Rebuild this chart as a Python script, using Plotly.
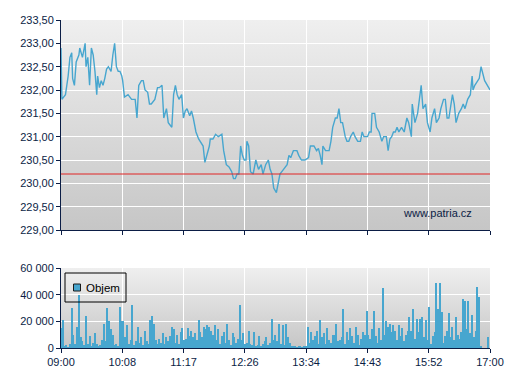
import base64
import plotly.graph_objects as go
from plotly.subplots import make_subplots

# ---- data ----
price_minutes = [0, 1, 5, 8, 10, 12, 13, 15, 17, 20, 21, 24, 27, 28, 30, 32, 34, 36, 38, 40,
                 41, 43, 45, 47, 49, 51, 53, 55, 56, 58, 60, 62, 64, 66, 68, 69, 71, 75, 79, 83,
                 85, 87, 90, 92, 94, 97, 99, 101, 105, 108, 110, 113, 115, 118, 120, 122, 124, 126, 128, 130,
                 132, 135, 137, 139, 141, 144, 146, 148, 151, 154, 156, 159, 161, 163, 166, 167, 170, 173, 176, 180,
                 182, 185, 188, 191, 193, 195, 197, 199, 201, 203, 205, 207, 208, 210, 212, 215, 218, 221, 224, 226,
                 229, 232, 234, 236, 238, 241, 243, 245, 249, 253, 255, 257, 260, 264, 266, 269, 273, 277, 279, 283,
                 286, 288, 290, 292, 293, 296, 300, 302, 304, 307, 309, 311, 313, 315, 318, 320, 322, 324, 327, 329,
                 332, 335, 337, 339, 343, 345, 347, 348, 351, 353, 356, 359, 361, 364, 366, 368, 370, 372, 374, 376,
                 378, 381, 384, 387, 389, 392, 393, 396, 399, 401, 403, 405, 408, 410, 413, 415, 418, 420, 423, 425,
                 428, 430, 432, 434, 438, 440, 442, 445, 448, 450, 452, 455, 458, 460, 461, 463, 466, 468, 470, 474,
                 480]
price_values = [232.9, 231.8, 231.9, 232.3, 232.7, 232.8, 232.25, 232.1, 232.6, 232.75, 232.9, 232.7, 233.0, 232.5, 232.7, 232.1, 232.9, 232.75, 232.4, 231.9,
                232.3, 232.05, 232.2, 232.1, 232.25, 232.45, 232.5, 232.45, 232.4, 232.75, 233.0, 232.5, 232.4, 232.4, 232.3, 232.2, 231.85, 231.9, 231.8, 231.8,
                231.4, 232.1, 232.2, 232.2, 232.0, 231.95, 231.7, 231.7, 231.8, 232.05, 232.05, 232.1, 231.4, 231.6, 231.3, 231.25, 231.2, 231.9, 232.1, 231.9,
                231.8, 231.9, 231.4, 231.55, 231.6, 231.45, 231.55, 231.4, 231.1, 230.95, 230.9, 230.8, 230.45, 230.6, 230.8, 230.95, 230.95, 231.05, 231.0, 231.05,
                230.7, 230.4, 230.35, 230.25, 230.1, 230.1, 230.2, 230.2, 230.8, 230.6, 230.5, 230.5, 230.9, 230.8, 230.25, 230.2, 230.5, 230.3, 230.4, 230.2,
                230.4, 230.5, 230.3, 230.2, 229.9, 229.8, 230.0, 230.2, 230.3, 230.4, 230.6, 230.55, 230.7, 230.7, 230.6, 230.5, 230.5, 230.55, 230.8, 230.8,
                230.7, 230.75, 230.6, 230.4, 230.8, 230.7, 230.7, 230.9, 231.2, 231.4, 231.4, 231.6, 231.3, 231.3, 231.0, 230.9, 230.9, 231.0, 231.1, 231.0,
                230.9, 230.9, 231.1, 231.0, 231.0, 231.1, 231.1, 231.5, 231.5, 231.2, 231.1, 230.9, 231.0, 231.0, 230.7, 230.95, 231.0, 231.1, 231.1, 231.2,
                231.1, 231.2, 231.1, 231.4, 231.3, 231.0, 231.7, 231.3, 231.5, 231.8, 232.1, 231.6, 231.7, 231.3, 231.1, 231.4, 231.6, 231.3, 231.4, 231.6,
                231.8, 231.8, 231.4, 231.4, 231.9, 231.7, 231.3, 231.5, 231.6, 231.7, 231.6, 231.8, 231.9, 232.3, 232.0, 232.1, 232.2, 232.25, 232.5, 232.2,
                232.0]

reference_price = 230.20

# volume in thousands, one value per 2-minute bin starting 09:00
volume_thousands = [
    15, 21, 1, 2, 0.5, 3, 30, 10, 3, 16, 40, 8, 5, 2, 24, 3, 9, 1, 4, 11,
    3, 1, 2, 6, 18, 5, 30, 20, 14, 10, 2, 3, 1, 31, 20, 20, 8, 17, 3, 6,
    32, 2, 5, 16, 4, 8, 2, 13, 5, 3, 21, 24, 18, 6, 3, 7, 4, 11, 3, 8,
    5, 9, 16, 14, 4, 10, 3, 12, 15, 6, 7, 15, 9, 13, 8, 11, 6, 21, 12, 8,
    16, 14, 17, 16, 13, 10, 17, 6, 14, 3, 9, 12, 4, 18, 6, 2, 11, 8, 4, 7,
    32, 6, 11, 3, 4, 13, 3, 2, 12, 1, 2, 9, 1, 3, 5, 8, 2, 4, 22, 6,
    10, 5, 18, 3, 17, 2, 18, 8, 4, 1, 1, 1, 0.5, 1, 1, 0.5, 1, 1, 16, 4,
    12, 6, 9, 13, 3, 21, 8, 11, 3, 15, 6, 4, 10, 10, 18, 5, 6, 8, 29, 3,
    12, 6, 15, 9, 4, 16, 10, 2, 7, 12, 10, 28, 10, 7, 14, 28, 9, 4, 15, 6,
    45, 10, 20, 16, 18, 12, 17, 13, 6, 17, 9, 15, 5, 10, 13, 23, 13, 29, 7, 22,
    12, 22, 23, 8, 21, 6, 31, 3, 9, 12, 49, 29, 49, 27, 4, 9, 13, 26, 8, 16,
    6, 23, 10, 7, 12, 37, 35, 14, 35, 11, 25, 8, 13, 46, 38, 1, 0, 0, 0, 8,
]
volume_minutes = [2 * i for i in range(len(volume_thousands))]
volume_values = [v * 1000 for v in volume_thousands]
volume_name = "Objem"

time_tick_labels = ["09:00", "10:08", "11:17", "12:26", "13:34", "14:43", "15:52", "17:00"]
price_tick_values = [229.0, 229.5, 230.0, 230.5, 231.0, 231.5, 232.0, 232.5, 233.0, 233.5]
price_tick_labels = ["229,00", "229,50", "230,00", "230,50", "231,00", "231,50", "232,00", "232,50", "233,00", "233,50"]
volume_tick_values = [0, 20000, 40000, 60000]
volume_tick_labels = ["0", "20 000", "40 000", "60 000"]

# ---- style ----
BLUE = "#47a6cf"
NAVY = "#0b1d45"
FONT = "Liberation Sans, Arial, sans-serif"
W, H = 507, 380
ML, MR, MT, MB = 61, 17, 20, 32
PW, PH = W - ML - MR, H - MT - MB
time_tick_values = [i * 480 / 7 for i in range(8)]


def px_x(p):
    return (p - ML) / PW


def px_y(p):
    return (H - MB - p) / PH


svg = ('<svg xmlns="http://www.w3.org/2000/svg" width="10" height="100" preserveAspectRatio="none">'
       '<defs><linearGradient id="g" x1="0" y1="0" x2="0" y2="1">'
       '<stop offset="0" stop-color="#efefef"/><stop offset="1" stop-color="#c6c6c6"/>'
       '</linearGradient></defs><rect width="10" height="100" fill="url(#g)"/></svg>')
grad_uri = "data:image/svg+xml;base64," + base64.b64encode(svg.encode()).decode()

fig = make_subplots(rows=2, cols=1, shared_xaxes=False, vertical_spacing=0.0)

fig.add_trace(go.Scatter(x=price_minutes, y=price_values, mode="lines",
                         line=dict(color=BLUE, width=1.4), showlegend=False,
                         hoverinfo="skip"), row=1, col=1)

fig.add_trace(go.Bar(x=volume_minutes, y=volume_values, width=1.3,
                     marker=dict(color=BLUE, line=dict(width=0)),
                     name=volume_name, showlegend=False), row=2, col=1)

fig.add_hline(y=reference_price, line=dict(color="#e02424", width=1), row=1, col=1)

# legend box (drawn like the original's compact legend)
fig.add_shape(type="rect", xref="paper", yref="paper",
              x0=px_x(65), x1=px_x(126), y0=px_y(302), y1=px_y(273),
              line=dict(color="black", width=1), fillcolor="rgba(0,0,0,0)", layer="above")
fig.add_shape(type="rect", xref="paper", yref="paper",
              x0=px_x(73.5), x1=px_x(80.5), y0=px_y(291), y1=px_y(284),
              line=dict(color="#1a1a1a", width=1), fillcolor=BLUE, layer="above")
fig.add_annotation(text=volume_name, xref="paper", yref="paper",
                   x=px_x(84), y=px_y(287.5), xanchor="left", yanchor="middle",
                   showarrow=False, font=dict(family=FONT, size=11.5, color="black"))

fig.add_annotation(text="www.patria.cz", xref="x domain", yref="y domain",
                   x=0.963, y=0.08, xanchor="right", yanchor="middle",
                   showarrow=False, font=dict(family=FONT, size=11, color=NAVY))

fig.update_layout(
    width=W, height=H,
    margin=dict(l=ML, r=MR, t=MT, b=MB, autoexpand=False),
    paper_bgcolor="white",
    plot_bgcolor="rgba(0,0,0,0)",
    font=dict(family=FONT, size=11, color=NAVY),
    bargap=0,
    showlegend=False,
    images=[
        dict(source=grad_uri, xref="x domain", yref="y domain", x=0, y=1,
             sizex=1, sizey=1, sizing="stretch", layer="below", xanchor="left", yanchor="top"),
        dict(source=grad_uri, xref="x2 domain", yref="y2 domain", x=0, y=1,
             sizex=1, sizey=1, sizing="stretch", layer="below", xanchor="left", yanchor="top"),
    ],
    yaxis=dict(domain=[px_y(230), 1.0]),
    yaxis2=dict(domain=[0, px_y(268)]),
)

axis_common = dict(showline=True, linecolor=NAVY, linewidth=1, ticks="outside",
                   tickcolor=NAVY, ticklen=4, showgrid=True, gridcolor="white",
                   gridwidth=1, zeroline=False, mirror=False)

fig.update_xaxes(range=[0, 480], tickmode="array", tickvals=time_tick_values,
                 ticktext=time_tick_labels, **axis_common)
fig.update_xaxes(showticklabels=False, row=1, col=1)
fig.update_yaxes(range=[229, 233.5], tickmode="array", tickvals=price_tick_values,
                 ticktext=price_tick_labels, row=1, col=1, **axis_common)
fig.update_yaxes(range=[0, 60000], tickmode="array", tickvals=volume_tick_values,
                 ticktext=volume_tick_labels, row=2, col=1, **axis_common)

fig.write_html("out.html", config={"displayModeBar": False},
               post_script="document.body.style.margin='0';document.body.style.overflow='hidden';")
